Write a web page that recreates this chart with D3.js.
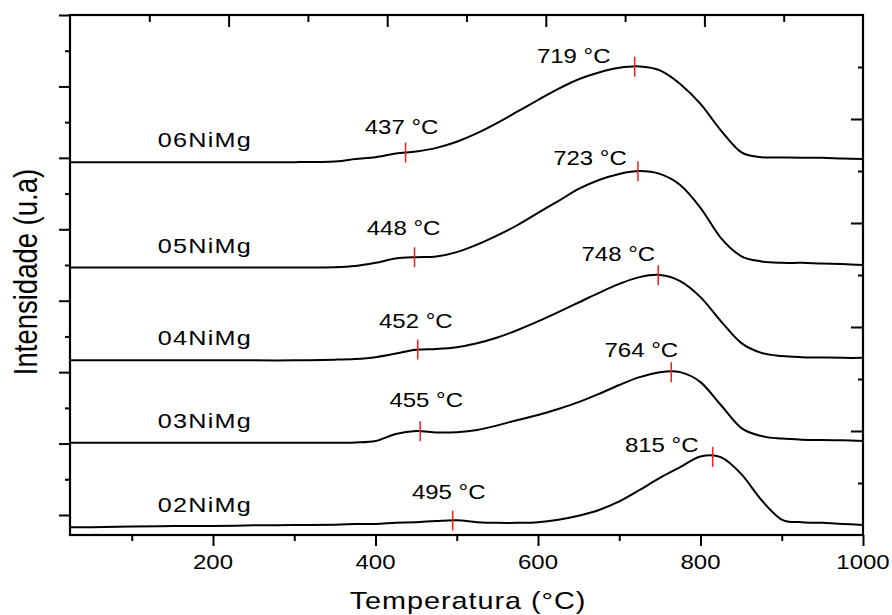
<!DOCTYPE html>
<html>
<head>
<meta charset="utf-8">
<script src="https://cdn.jsdelivr.net/npm/d3@7"></script>
<style>
  html, body { margin: 0; background: #ffffff; }
  svg { display: block; }
</style>
</head>
<body>
<svg id="chart" width="892" height="615"></svg>
<script>
// ---- Data: TPR profiles, intensity in arbitrary units (stacked offsets included)
const temps = [25, 50, 100, 150, 200, 250, 300, 350, 375, 400, 425, 450, 475, 500, 525, 550, 575, 600,
               625, 650, 675, 700, 725, 750, 775, 800, 825, 850, 875, 900, 925, 950, 975, 1000];

const s02 = [-0.34, -0.34, -0.32, -0.31, -0.31, -0.29, -0.28, -0.27, -0.25, -0.25, -0.22, -0.20, -0.17, -0.15,
             -0.20, -0.22, -0.22, -0.20, -0.13, -0.02, 0.14, 0.38, 0.70, 1.04, 1.34, 1.64, 1.62, 1.15, 0.42,
             -0.13, -0.20, -0.22, -0.25, -0.28];
const s03 = [2.02, 2.02, 2.02, 2.02, 2.02, 2.02, 2.02, 2.02, 2.03, 2.07, 2.27, 2.35, 2.31, 2.32, 2.38, 2.51,
             2.66, 2.80, 2.97, 3.16, 3.39, 3.64, 3.86, 4.00, 4.00, 3.72, 3.08, 2.44, 2.21, 2.14, 2.11, 2.10,
             2.09, 2.07];
const s04 = [4.33, 4.33, 4.33, 4.33, 4.33, 4.33, 4.33, 4.35, 4.37, 4.42, 4.52, 4.63, 4.65, 4.70, 4.81, 4.97,
             5.18, 5.42, 5.68, 5.95, 6.22, 6.47, 6.66, 6.72, 6.55, 6.10, 5.43, 4.82, 4.54, 4.45, 4.42, 4.41,
             4.40, 4.40];
const s05 = [6.93, 6.93, 6.93, 6.93, 6.93, 6.93, 6.93, 6.94, 6.97, 7.06, 7.18, 7.22, 7.24, 7.36, 7.57, 7.83,
             8.12, 8.46, 8.79, 9.13, 9.38, 9.55, 9.63, 9.55, 9.24, 8.60, 7.76, 7.25, 7.10, 7.06, 7.06, 7.04,
             7.03, 7.00];
const s06 = [9.88, 9.88, 9.88, 9.88, 9.88, 9.88, 9.88, 9.90, 9.97, 10.02, 10.12, 10.18, 10.28, 10.45, 10.69,
             10.98, 11.30, 11.62, 11.93, 12.20, 12.39, 12.52, 12.56, 12.45, 12.07, 11.51, 10.77, 10.16, 10.02,
             10.01, 10.00, 10.00, 9.98, 9.97];

const sampleNames = ["02NiMg", "03NiMg", "04NiMg", "05NiMg", "06NiMg"];
const lowPeaks  = [495, 455, 452, 448, 437];   // °C
const highPeaks = [815, 764, 748, 723, 719];   // °C

const xMajorTicks = [200, 400, 600, 800, 1000];
const xMinorTicks = [100, 300, 500, 700, 900];

// ---- Layout
const plot = { left: 70, right: 863, top: 15, bottom: 535 };
const STRETCH = 1.2;                         // horizontal widening of all lettering
const FONT = "'Liberation Sans', Arial, Helvetica, sans-serif";

// label placement relative to each marker: [dx of text centre, dy of baseline]
const lowLabelOffsets  = [[-4, -22], [6, -24], [-2, -22], [-11, -22], [-4, -19]];
const highLabelOffsets = [[-51, -5], [-30, -15], [-40, -14], [-48, -6], [-61, -4]];

const series = [s02, s03, s04, s05, s06];

const svg = d3.select("#chart");

const x = d3.scaleLinear().domain([24, 1000]).range([plot.left, plot.right]);
const xTop = d3.scaleLinear().domain([0, 1000]).range([plot.left, plot.right]);
const y = d3.scaleLinear().domain([-0.56, 14]).range([plot.bottom, plot.top]);
const yRight = d3.scaleLinear().domain([0, 10]).range([plot.bottom, plot.top]);

function stretchedText(g, px, py, str, size, anchor, spacing) {
  return g.append("text")
    .attr("transform", `translate(${px},${py}) scale(${STRETCH},1)`)
    .attr("text-anchor", anchor)
    .attr("font-family", FONT)
    .attr("font-size", size)
    .attr("letter-spacing", spacing || 0)
    .attr("fill", "#000")
    .text(str);
}

function valueAt(values, t) {
  const i = Math.max(1, Math.min(temps.length - 1, d3.bisectLeft(temps, t)));
  const t0 = temps[i - 1], t1 = temps[i];
  const f = (t - t0) / (t1 - t0);
  return values[i - 1] + f * (values[i] - values[i - 1]);
}

// ---- Axes / ticks
const axes = svg.append("g");

function drawTicks(axis, transform) {
  const g = axes.append("g").attr("transform", transform).call(axis);
  g.select(".domain").remove();
  g.selectAll("line").attr("stroke", "#000").attr("stroke-width", 2);
}

// bottom axis (outward ticks)
drawTicks(d3.axisBottom(x).tickValues(xMajorTicks).tickSize(11).tickFormat(""), `translate(0,${plot.bottom})`);
drawTicks(d3.axisBottom(x).tickValues(xMinorTicks).tickSize(6).tickFormat(""), `translate(0,${plot.bottom})`);

// top axis (inward ticks)
drawTicks(d3.axisBottom(xTop).tickValues(d3.range(200, 1000, 200)).tickSize(12).tickFormat(""), `translate(0,${plot.top})`);
drawTicks(d3.axisBottom(xTop).tickValues(d3.range(100, 1000, 200)).tickSize(7).tickFormat(""), `translate(0,${plot.top})`);

// left axis (outward ticks, alternating length)
drawTicks(d3.axisLeft(y).tickValues(d3.range(0, 15, 2)).tickSize(11).tickFormat(""), `translate(${plot.left},0)`);
drawTicks(d3.axisLeft(y).tickValues(d3.range(1, 15, 2)).tickSize(5).tickFormat(""), `translate(${plot.left},0)`);

// right axis (inward ticks)
drawTicks(d3.axisRight(yRight).tickValues(d3.range(2, 10, 2)).tickSize(-12).tickFormat(""), `translate(${plot.right},0)`);
drawTicks(d3.axisRight(yRight).tickValues(d3.range(1, 10, 2)).tickSize(-5).tickFormat(""), `translate(${plot.right},0)`);

// frame
svg.append("rect")
  .attr("x", plot.left).attr("y", plot.top)
  .attr("width", plot.right - plot.left).attr("height", plot.bottom - plot.top)
  .attr("fill", "none").attr("stroke", "#000").attr("stroke-width", 2.2);

// tick labels
const labels = svg.append("g");
xMajorTicks.forEach(v => stretchedText(labels, x(v), 569, String(v), 20, "middle"));

// axis titles
stretchedText(labels, 468, 609, "Temperatura (°C)", 24, "middle", 0.8);
svg.append("text")
  .attr("transform", `translate(37,272) scale(${STRETCH},1) rotate(-90)`)
  .attr("text-anchor", "middle")
  .attr("font-family", FONT)
  .attr("font-size", 27.5)
  .attr("fill", "#000")
  .text("Intensidade (u.a)");

// ---- Curves
const line = d3.line()
  .x((d, i) => x(temps[i]))
  .y(d => y(d))
  .curve(d3.curveCatmullRom.alpha(0));

svg.append("g").selectAll("path")
  .data(series)
  .join("path")
  .attr("d", d => line(d))
  .attr("fill", "none")
  .attr("stroke", "#000")
  .attr("stroke-width", 2)
  .attr("stroke-linejoin", "round");

// sample names above each baseline
series.forEach((s, i) => {
  stretchedText(labels, x(190), y(s[0]) - 15, sampleNames[i], 21, "middle", 1);
});

// ---- Peak markers and temperature labels
const markers = svg.append("g").attr("stroke", "#ff1a1a").attr("stroke-width", 1.5);
series.forEach((s, i) => {
  [[lowPeaks[i], lowLabelOffsets[i]], [highPeaks[i], highLabelOffsets[i]]].forEach(([t, off]) => {
    const px = x(t), py = y(valueAt(s, t));
    markers.append("line")
      .attr("x1", px).attr("x2", px)
      .attr("y1", py - 10).attr("y2", py + 10);
    stretchedText(labels, px + off[0], py + off[1], `${t} °C`, 20, "middle");
  });
});
</script>
</body>
</html>
